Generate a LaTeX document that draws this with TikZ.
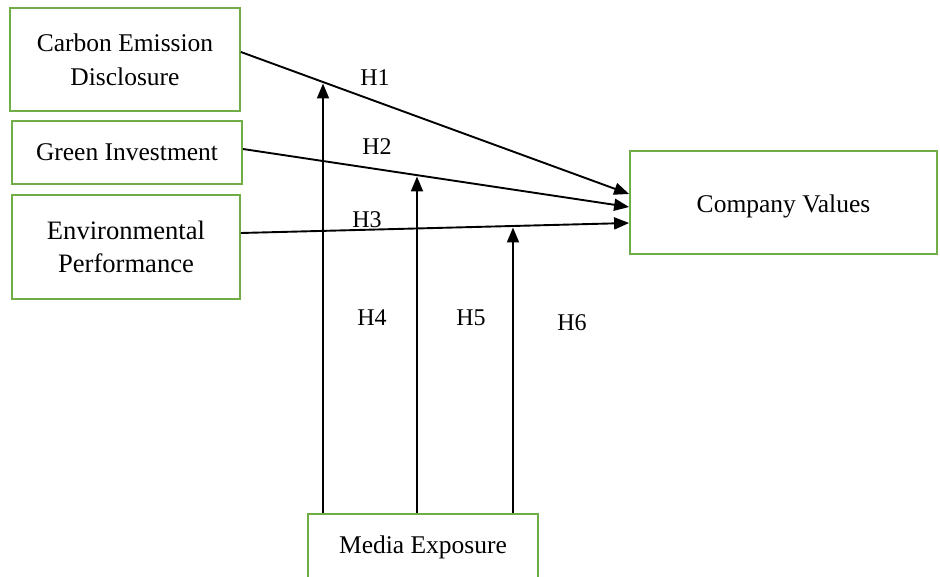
\documentclass[tikz,border=0pt]{standalone}
\usepackage{fontspec}
\setmainfont{Liberation Serif}
\usetikzlibrary{arrows.meta}
\definecolor{boxgreen}{RGB}{112,173,71}
\tikzset{
  varbox/.style={draw=boxgreen, line width=1.8pt, fill=white, align=center,
    inner sep=0pt, font=\fontsize{25.5}{34}\selectfont},
  link/.style={line width=1.9pt, -{Triangle[length=15pt,width=12pt]}},
  hlabel/.style={font=\fontsize{24}{28}\selectfont, inner sep=0pt}
}
\begin{document}
\begin{tikzpicture}[x=1pt,y=-1pt]
\useasboundingbox (0,0) rectangle (940,577);
\clip (0,0) rectangle (940,577);
\fill[white] (0,0) rectangle (940,577);
\node[varbox, minimum width=230pt, minimum height=103pt] (ced) at (125,59.5) {Carbon Emission\\Disclosure};
\node[varbox, minimum width=230pt, minimum height=63pt] (gi) at (127,152.5) {Green Investment};
\node[varbox, minimum width=228pt, minimum height=104pt, font=\fontsize{26.6}{33}\selectfont] (ep) at (126,247) {Environmental\\Performance};
\node[varbox, minimum width=307pt, minimum height=103pt, text height=22pt, text depth=2pt] (cv) at (783.5,202.5) {Company Values};
\node[varbox, minimum width=230pt, minimum height=66pt] (me) at (423,547) {Media Exposure};
\draw[link] ([yshift=7.5pt]ced.east) -- ([yshift=8.5pt]cv.west);
\draw[link] ([yshift=3.5pt]gi.east) -- ([yshift=-4.5pt]cv.west);
\draw[link] ([yshift=14pt]ep.east) -- ([yshift=-20.5pt]cv.west);
\coordinate (t1) at (323,83.5);
\coordinate (t2) at (417,176.5);
\coordinate (t3) at (513,227.5);
\draw[link] ([xshift=-100pt]me.north) -- (t1);
\draw[link] ([xshift=-6pt]me.north) -- (t2);
\draw[link] ([xshift=90pt]me.north) -- (t3);
\node[hlabel] (h1) at (375,78) {H1};
\node[hlabel] (h2) at (377,147) {H2};
\node[hlabel] (h3) at (367,220) {H3};
\node[hlabel] (h4) at (372,318) {H4};
\node[hlabel] (h5) at (471,318) {H5};
\node[hlabel] (h6) at (572,323) {H6};
\end{tikzpicture}
\end{document}
